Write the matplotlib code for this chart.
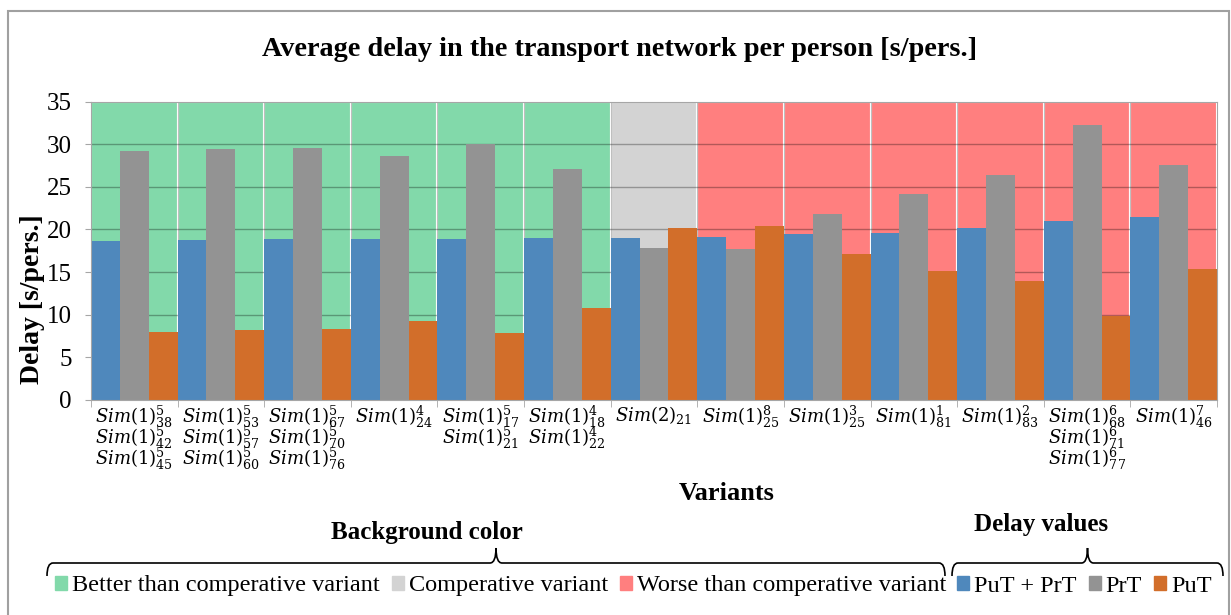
import matplotlib
matplotlib.use("Agg")
import matplotlib.pyplot as plt
import numpy as np
from matplotlib.patches import Patch, Rectangle, PathPatch
from matplotlib.path import Path

plt.rcParams['font.family'] = ['Liberation Serif', 'DejaVu Serif']
plt.rcParams['mathtext.fontset'] = 'dejavuserif'

# data
variants = [
    r"$Sim(1)^{5}_{38}$" + "\n" + r"$Sim(1)^{5}_{42}$" + "\n" + r"$Sim(1)^{5}_{45}$",
    r"$Sim(1)^{5}_{53}$" + "\n" + r"$Sim(1)^{5}_{57}$" + "\n" + r"$Sim(1)^{5}_{60}$",
    r"$Sim(1)^{5}_{67}$" + "\n" + r"$Sim(1)^{5}_{70}$" + "\n" + r"$Sim(1)^{5}_{76}$",
    r"$Sim(1)^{4}_{24}$",
    r"$Sim(1)^{5}_{17}$" + "\n" + r"$Sim(1)^{5}_{21}$",
    r"$Sim(1)^{4}_{18}$" + "\n" + r"$Sim(1)^{4}_{22}$",
    r"$Sim(2)_{21}$",
    r"$Sim(1)^{8}_{25}$",
    r"$Sim(1)^{3}_{25}$",
    r"$Sim(1)^{1}_{81}$",
    r"$Sim(1)^{2}_{83}$",
    r"$Sim(1)^{6}_{68}$" + "\n" + r"$Sim(1)^{6}_{71}$" + "\n" + r"$Sim(1)^{6}_{77}$",
    r"$Sim(1)^{7}_{46}$",
]
put_prt = [18.6, 18.8, 18.9, 18.9, 18.9, 19.0, 19.0, 19.1, 19.5, 19.6, 20.2, 21.0, 21.4]
prt = [29.2, 29.4, 29.5, 28.6, 30.0, 27.1, 17.8, 17.7, 21.8, 24.1, 26.4, 32.2, 27.5]
put = [8.0, 8.2, 8.3, 9.3, 7.8, 10.8, 20.2, 20.4, 17.1, 15.1, 13.9, 9.9, 15.4]
bg_class = ["better"] * 6 + ["comp"] + ["worse"] * 6
bg_labels = {"better": "Better than comperative variant",
             "comp": "Comperative variant",
             "worse": "Worse than comperative variant"}
series_labels = ["PuT + PrT", "PrT", "PuT"]
y_max = 35

bg_colors = {"better": "#82D9AA", "comp": "#D3D3D3", "worse": "#FF7F7F"}
bar_colors = ["#4F88BC", "#939393", "#D26E2A"]
spine_c = "#A6A6A6"

W, H = 1231, 615
fig = plt.figure(figsize=(W / 100, H / 100), dpi=100)

# outer chart border
fig.patches.append(Rectangle((8 / W, -0.1), 1221 / W, 1 - 11 / H + 0.1,
                             transform=fig.transFigure, fill=False,
                             edgecolor="#A0A0A0", lw=1.5, zorder=0))

ax = fig.add_axes([91 / W, 1 - 400 / H, (1217 - 91) / W, (400 - 101.5) / H])
x = np.arange(len(variants))

# background bands
ax.bar(x, [y_max] * len(x), width=1.0, color=[bg_colors[c] for c in bg_class],
       edgecolor="white", linewidth=1.5, zorder=0)
for b in np.arange(len(x) - 1) + 0.5:
    ax.axvline(b, color="#BFBFBF", lw=0.8, zorder=0.5)
for yv in range(5, y_max, 5):
    ax.axhline(yv, color="black", alpha=0.3, lw=1, zorder=1)

w = 1 / 3
for i, (vals, col) in enumerate(zip([put_prt, prt, put], bar_colors)):
    ax.bar(x + (i - 1) * w, vals, width=w, color=col, zorder=2)

ax.set_xlim(-0.5, len(x) - 0.5)
ax.set_ylim(0, y_max)
ax.set_yticks(range(0, y_max + 1, 5))
ax.tick_params(axis="y", labelsize=18, length=4, color=spine_c, pad=10)
ax.set_xticks(x)
ax.set_xticklabels(variants, fontsize=13, linespacing=0.7, multialignment="left")
ax.tick_params(axis="x", which="major", length=0, pad=3)
ax.set_xticks(np.arange(len(x) + 1) - 0.5, minor=True)
ax.tick_params(axis="x", which="minor", length=5, color=spine_c)
for s in ax.spines.values():
    s.set_color(spine_c)

fig.text(620 / W, 1 - 50 / H, "Average delay in the transport network per person [s/pers.]",
         ha="center", va="center", fontsize=20.3, fontweight="bold")
fig.text(33 / W, 1 - 299 / H, "Delay [s/pers.]", rotation=90, ha="center", va="center",
         fontsize=20, fontweight="bold")
fig.text(727 / W, 1 - 493 / H, "Variants", ha="center", va="center",
         fontsize=19, fontweight="bold")
fig.text(427 / W, 1 - 532 / H, "Background color", ha="center", va="center",
         fontsize=18, fontweight="bold")
fig.text(1041 / W, 1 - 525 / H, "Delay values", ha="center", va="center",
         fontsize=18, fontweight="bold")


def brace(x0, x1, y, tip=15, drop=13, r=6):
    xm = (x0 + x1) / 2
    pts = [(x0, y + drop), (x0, y), (x0 + r, y), (xm - r, y), (xm, y), (xm, y - tip),
           (xm, y), (xm + r, y), (x1 - r, y), (x1, y), (x1, y + drop)]
    codes = [Path.MOVETO, Path.CURVE3, Path.CURVE3, Path.LINETO, Path.CURVE3, Path.CURVE3,
             Path.CURVE3, Path.CURVE3, Path.LINETO, Path.CURVE3, Path.CURVE3]
    verts = [(px / W, 1 - py / H) for px, py in pts]
    fig.patches.append(PathPatch(Path(verts, codes), transform=fig.transFigure,
                                 fill=False, edgecolor="black", lw=1.2))


brace(47, 945, 563)
brace(952, 1223, 563)

leg_kw = dict(loc="center left", ncol=3, frameon=False, fontsize=17.5,
              handlelength=0.5, handleheight=0.5, handletextpad=0.2,
              columnspacing=0.5, borderpad=0, borderaxespad=0)
bg_handles = [Patch(color=bg_colors[k]) for k in ["better", "comp", "worse"]]
fig.legend(bg_handles, [bg_labels[k] for k in ["better", "comp", "worse"]],
           bbox_to_anchor=(55 / W, 1 - 586 / H), **leg_kw)
ser_handles = [Patch(color=c) for c in bar_colors]
fig.legend(ser_handles, series_labels,
           bbox_to_anchor=(957 / W, 1 - 586 / H), **leg_kw)

fig.savefig("out.png", dpi=100)
